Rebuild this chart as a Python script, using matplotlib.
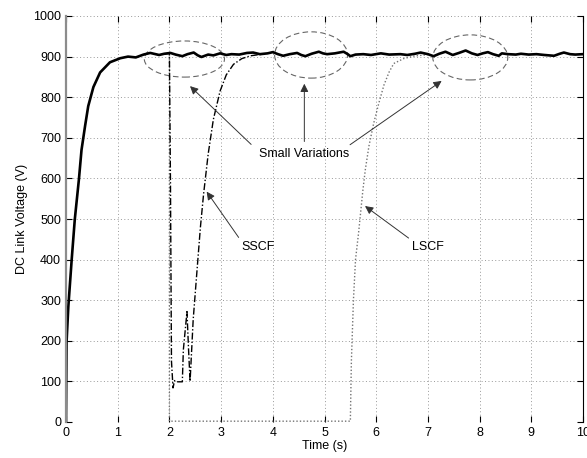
import matplotlib
matplotlib.use("Agg")
import matplotlib.pyplot as plt
from matplotlib.patches import Ellipse

plt.rcParams['font.family'] = ['Liberation Sans', 'DejaVu Sans']

# Normal operation (thick line)
t_main = [0, 0.005, 0.01, 0.045, 0.11, 0.17, 0.25, 0.30, 0.37, 0.43, 0.53, 0.66,
          0.85, 1.05, 1.2, 1.35, 1.5, 1.63, 1.8, 1.9, 2.02, 2.12, 2.25, 2.35,
          2.47, 2.55, 2.62, 2.75, 2.85, 2.98, 3.1, 3.2, 3.35, 3.5, 3.62, 3.75,
          3.9, 4.0, 4.1, 4.2, 4.33, 4.47, 4.55, 4.63, 4.75, 4.89, 4.97, 5.05,
          5.2, 5.37, 5.45, 5.5, 5.6, 5.75, 5.9, 6.09, 6.25, 6.47, 6.6, 6.75,
          6.86, 7.0, 7.11, 7.22, 7.34, 7.48, 7.6, 7.73, 7.85, 7.96, 8.06, 8.16,
          8.26, 8.37, 8.43, 8.55, 8.7, 8.8, 8.95, 9.1, 9.25, 9.44, 9.55, 9.63,
          9.75, 9.85, 10.0]
v_main = [0, 100, 195, 284, 400, 499, 598, 670, 730, 778, 825, 861,
          886, 896, 900, 898, 905, 909, 904, 907, 909, 905, 901, 906,
          910, 903, 899, 905, 903, 908, 904, 906, 905, 909, 910, 906,
          908, 911, 906, 902, 906, 909, 904, 901, 907, 912, 908, 906,
          908, 912, 906, 901, 905, 906, 904, 908, 905, 906, 904, 907,
          910, 906, 901, 907, 912, 904, 909, 915, 908, 904, 908, 911,
          906, 902, 908, 906, 905, 907, 905, 906, 904, 902, 907, 910,
          906, 905, 906]

# Small short-circuit fault (dash-dot)
t_sscf = [1.9, 2.0, 2.02, 2.04, 2.07, 2.1, 2.16, 2.25, 2.27, 2.34, 2.37, 2.4,
          2.46, 2.54, 2.6, 2.66, 2.75, 2.85, 2.98, 3.1, 3.24, 3.4, 3.57, 3.8]
v_sscf = [906, 908, 600, 150, 84, 102, 99, 99, 178, 272, 180, 100,
          252, 383, 480, 560, 660, 745, 815, 855, 881, 895, 902, 906]

# Large short-circuit fault (dotted)
t_lscf = [1.9, 2.0, 2.0, 3.0, 4.0, 5.0, 5.5, 5.52, 5.56, 5.6, 5.66, 5.74,
          5.79, 5.86, 5.95, 6.05, 6.15, 6.25, 6.34, 6.53, 6.72, 7.0]
v_lscf = [906, 908, 2, 2, 2, 2, 2, 150, 301, 400, 467, 568,
          622, 680, 735, 785, 830, 862, 883, 895, 901, 905]

x_ticks = list(range(0, 11))
y_ticks = list(range(0, 1001, 100))

fig = plt.figure(figsize=(5.87, 4.58), dpi=100)
ax = fig.add_axes([66 / 587, 1 - 422 / 458, 517 / 587, 406 / 458])

ax.plot(t_lscf, v_lscf, color='0.45', linestyle=(0, (1, 1.5)), linewidth=1.0)
ax.plot(t_sscf, v_sscf, color='black', linestyle=(0, (5, 1.5, 1, 1.5)), linewidth=1.0)
ax.plot(t_main, v_main, color='black', linewidth=1.9)

ax.set_xlim(0, 10)
ax.set_ylim(0, 1000)
ax.set_xticks(x_ticks)
ax.set_yticks(y_ticks)
ax.grid(True, color='0.6', linestyle=(0, (1, 2.5)), linewidth=0.7)
ax.tick_params(direction='in', length=4, labelsize=9, top=True, right=True)
ax.spines['top'].set_visible(False)
ax.spines['bottom'].set_visible(False)
ax.spines['left'].set_color('0.55')
ax.spines['left'].set_linewidth(1.6)
ax.spines['right'].set_color('black')

ax.set_xlabel('Time (s)', fontsize=9, labelpad=1)
ax.set_ylabel('DC Link Voltage (V)', fontsize=9, labelpad=4)

# dashed ellipses around the variations
for cx, cy, w, h in [(2.29, 894, 1.55, 89), (4.74, 904, 1.41, 114), (7.82, 898, 1.45, 111)]:
    ax.add_patch(Ellipse((cx, cy), w, h, fill=False, edgecolor='0.4',
                         linestyle=(0, (5, 3)), linewidth=0.8))

ax.text(4.6, 660, 'Small Variations', fontsize=9, ha='center', va='center')
arrow = dict(arrowstyle='-|>', color='0.2', lw=0.7, mutation_scale=12)
ax.annotate('', xy=(2.36, 832), xytext=(3.62, 679), arrowprops=arrow)
ax.annotate('', xy=(4.61, 840), xytext=(4.61, 684), arrowprops=arrow)
ax.annotate('', xy=(7.31, 844), xytext=(5.45, 679), arrowprops=arrow)

ax.text(3.72, 432, 'SSCF', fontsize=9, ha='center', va='center')
ax.annotate('', xy=(2.69, 573), xytext=(3.37, 449), arrowprops=arrow)
ax.text(7.0, 430, 'LSCF', fontsize=9, ha='center', va='center')
ax.annotate('', xy=(5.74, 536), xytext=(6.67, 449), arrowprops=arrow)

fig.savefig('out.png', dpi=100)
